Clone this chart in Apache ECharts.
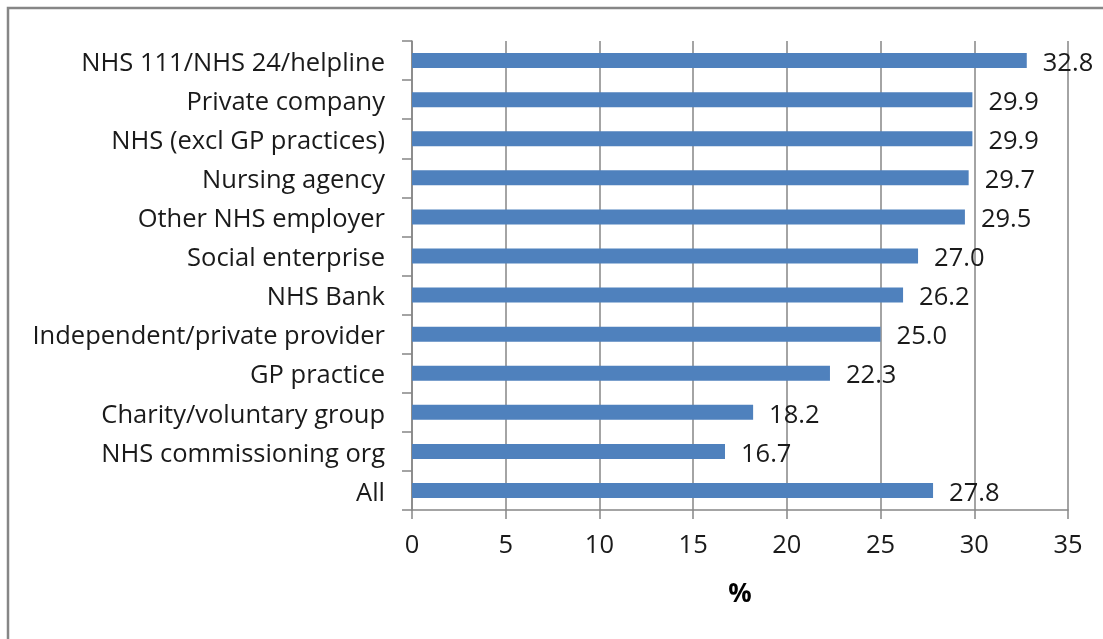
<!DOCTYPE html>
<html>
<head>
<meta charset="utf-8">
<script src="https://cdn.jsdelivr.net/npm/echarts@6/dist/echarts.min.js"></script>
<style>
html,body{margin:0;padding:0;background:#fff;}
#chart{width:1103px;height:639px;}
</style>
</head>
<body>
<div id="chart"></div>
<script>
const categories = [
  "NHS 111/NHS 24/helpline",
  "Private company",
  "NHS (excl GP practices)",
  "Nursing agency",
  "Other NHS employer",
  "Social enterprise",
  "NHS Bank",
  "Independent/private provider",
  "GP practice",
  "Charity/voluntary group",
  "NHS commissioning org",
  "All"
];
const values = [32.8, 29.9, 29.9, 29.7, 29.5, 27.0, 26.2, 25.0, 22.3, 18.2, 16.7, 27.8];
const xTicks = [0, 5, 10, 15, 20, 25, 30, 35];
const axisTitle = "%";

const FONT = "Open Sans";
const chart = echarts.init(document.getElementById('chart'), null, {renderer: 'canvas'});
chart.setOption({
  animation: false,
  backgroundColor: '#ffffff',
  graphic: [{
    type: 'rect',
    shape: {x: 8, y: 8, width: 1200, height: 1000},
    style: {fill: 'none', stroke: '#868686', lineWidth: 2.5},
    silent: true
  }],
  grid: {left: 412, right: 35, top: 41, bottom: 129, containLabel: false},
  xAxis: {
    type: 'value',
    min: xTicks[0],
    max: xTicks[xTicks.length - 1],
    interval: xTicks[1] - xTicks[0],
    name: axisTitle,
    nameLocation: 'middle',
    nameGap: 72,
    nameTextStyle: {fontFamily: FONT, fontSize: 26, fontWeight: 'bold', color: '#000'},
    axisLine: {show: true, lineStyle: {color: '#868686', width: 1.5}},
    axisTick: {show: true, length: 9, lineStyle: {color: '#868686', width: 1.5}},
    axisLabel: {fontFamily: FONT, fontSize: 25.5, color: '#1a1a1a', margin: 23},
    splitLine: {show: true, lineStyle: {color: '#868686', width: 1.5}}
  },
  yAxis: {
    type: 'category',
    data: categories,
    inverse: true,
    axisLine: {show: true, lineStyle: {color: '#868686', width: 1.5}},
    axisTick: {show: true, length: 10, lineStyle: {color: '#868686', width: 1.5}},
    axisLabel: {fontFamily: FONT, fontSize: 25.5, color: '#1a1a1a', margin: 27, verticalAlign: 'top', lineHeight: 6},
    splitLine: {show: false}
  },
  series: [{
    type: 'bar',
    data: values,
    barWidth: 15,
    itemStyle: {color: '#4F81BD'},
    label: {
      show: true,
      position: 'right',
      distance: 16,
      offset: [0, 3],
      fontFamily: FONT,
      fontSize: 25.5,
      color: '#1a1a1a',
      formatter: p => p.value.toFixed(1)
    }
  }]
});
</script>
</body>
</html>
